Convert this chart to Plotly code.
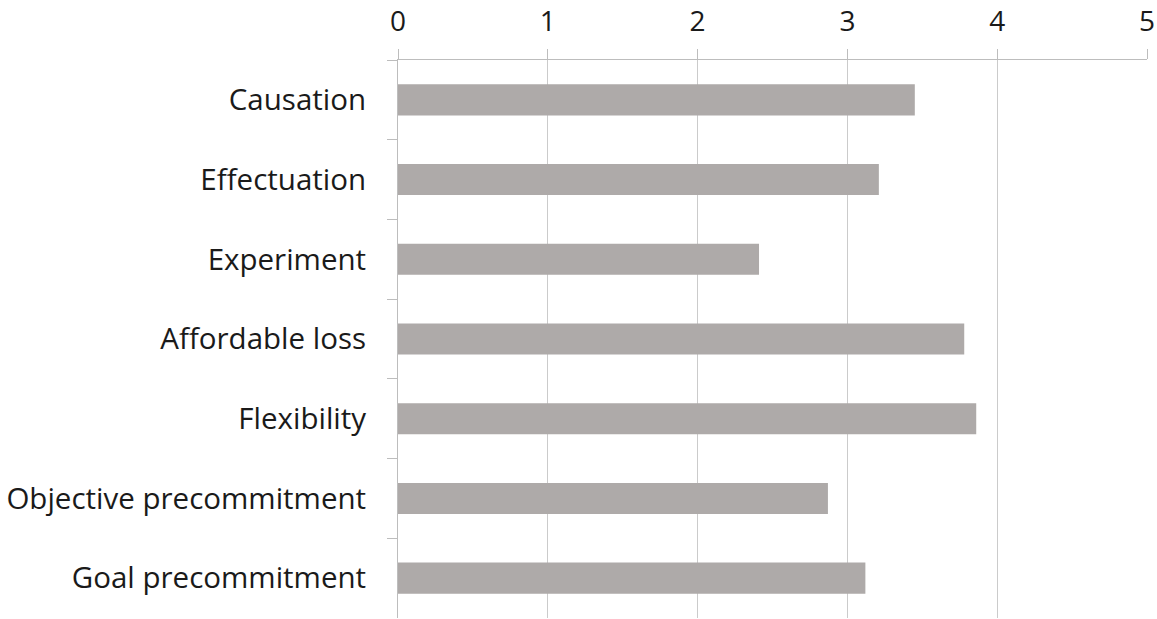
import plotly.graph_objects as go

categories = ["Causation", "Effectuation", "Experiment", "Affordable loss",
              "Flexibility", "Objective precommitment", "Goal precommitment"]
values = [3.45, 3.21, 2.41, 3.78, 3.86, 2.87, 3.12]
x_ticks = [0, 1, 2, 3, 4, 5]

fig = go.Figure(go.Bar(
    x=values, y=categories, orientation="h",
    marker=dict(color="#AEAAA9", line=dict(width=0)),
    width=0.39,
))

font = dict(family="Open Sans", size=29.5, color="#1a1a1a")
xfont = dict(family="Open Sans", size=28, color="#1a1a1a")
fig.update_layout(
    width=1157, height=619,
    margin=dict(l=398, r=10, t=60, b=1, autoexpand=False),
    paper_bgcolor="white", plot_bgcolor="white",
    showlegend=False,
    font=font,
    xaxis=dict(
        side="top", range=[0, 5], tickvals=x_ticks,
        showgrid=True, gridcolor="#CBCBCB", gridwidth=1,
        showline=True, linecolor="#BDBDBD", linewidth=1,
        ticks="outside", ticklen=10, tickcolor="#BDBDBD",
        zeroline=False, tickfont=xfont, ticklabelstandoff=7,
        automargin=False, ticklabeloverflow="allow",
    ),
    yaxis=dict(
        autorange="reversed", showgrid=False,
        showline=True, linecolor="#BDBDBD", linewidth=1,
        ticks="outside", ticklen=10, tickcolor="#BDBDBD",
        tickson="boundaries", tickfont=font, ticklabelstandoff=25,
        automargin=False, ticklabeloverflow="allow",
    ),
)

fig.write_html(
    "out.html",
    config={"displayModeBar": False},
    post_script="document.body.style.margin='0';document.body.style.overflow='hidden';",
)
